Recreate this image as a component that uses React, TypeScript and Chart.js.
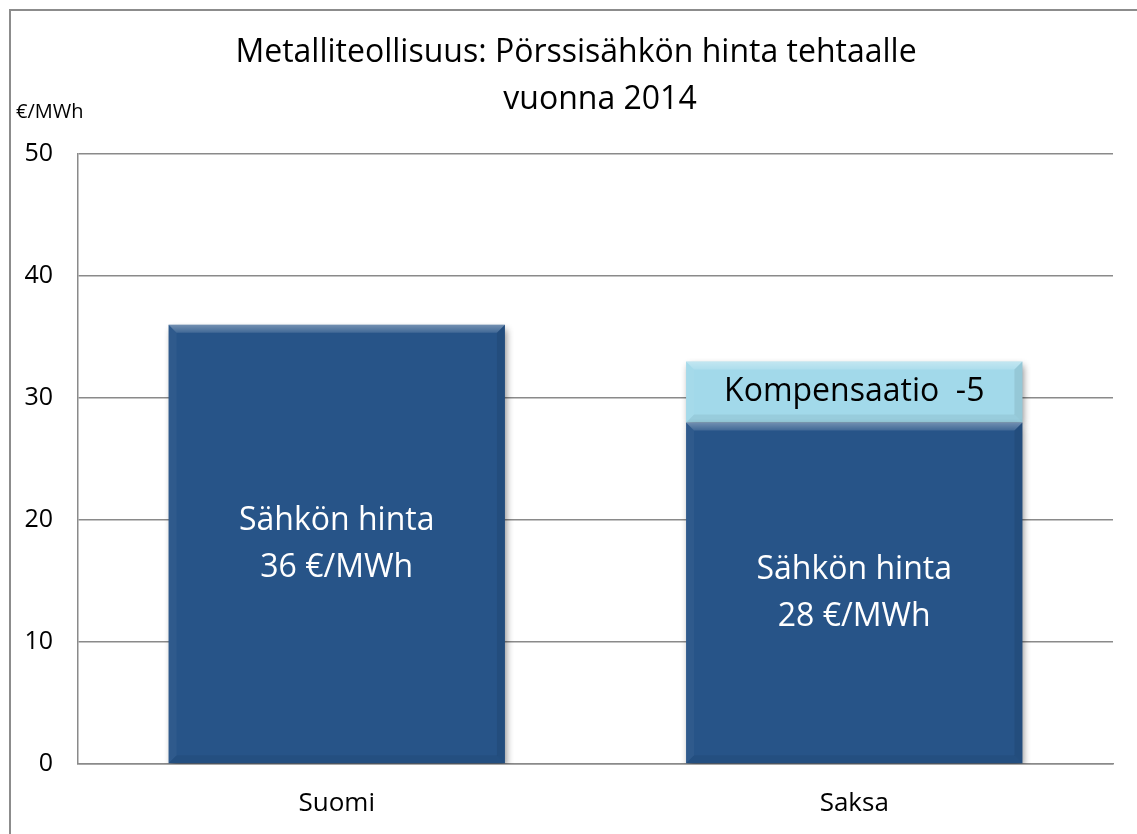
import React, { useEffect, useRef } from 'react';
import { Chart, registerables } from 'chart.js';

Chart.register(...registerables);

const categories = ['Suomi', 'Saksa'];
const priceValues = [36, 28];
const compensationValues: (number | null)[] = [null, 5];
const priceLabel = 'Sähkön hinta';
const priceUnit = '€/MWh';
const compensationLabel = 'Kompensaatio';
const titleLines = ['Metalliteollisuus: Pörssisähkön hinta tehtaalle', 'vuonna 2014'];
const unitLabel = '€/MWh';
const yMin = 0;
const yMax = 50;
const yStep = 10;

const FONT = '"Open Sans", "DejaVu Sans", sans-serif';
const DARK = '#275488';
const LIGHT = '#A2D9EA';
const GRID = '#8a8a8a';

function poly(ctx: CanvasRenderingContext2D, pts: number[][]) {
  ctx.beginPath();
  ctx.moveTo(pts[0][0], pts[0][1]);
  for (let i = 1; i < pts.length; i++) ctx.lineTo(pts[i][0], pts[i][1]);
  ctx.closePath();
  ctx.fill();
}

function drawBevel(ctx: CanvasRenderingContext2D, l: number, t: number, r: number, b: number, s: number) {
  const g = ctx.createLinearGradient(0, t, 0, t + s);
  g.addColorStop(0, 'rgba(255,255,255,0.35)');
  g.addColorStop(1, 'rgba(255,255,255,0.12)');
  ctx.fillStyle = g;
  poly(ctx, [[l, t], [r, t], [r - s, t + s], [l + s, t + s]]);
  ctx.fillStyle = 'rgba(255,255,255,0.04)';
  poly(ctx, [[l, t], [l + s, t + s], [l + s, b - s], [l, b]]);
  ctx.fillStyle = 'rgba(0,0,0,0.08)';
  poly(ctx, [[r, t], [r, b], [r - s, b - s], [r - s, t + s]]);
  ctx.fillStyle = 'rgba(0,0,0,0.06)';
  poly(ctx, [[l, b], [r, b], [r - s, b - s], [l + s, b - s]]);
}

const decorPlugin = {
  id: 'decor',
  beforeDraw(chart: any) {
    const ctx: CanvasRenderingContext2D = chart.ctx;
    ctx.save();
    ctx.fillStyle = '#ffffff';
    ctx.fillRect(0, 0, chart.width, chart.height);
    ctx.strokeStyle = '#8c8c8c';
    ctx.lineWidth = 2;
    ctx.strokeRect(10, 10, chart.width + 50, chart.height + 50);
    ctx.restore();
  },
  beforeDatasetsDraw(chart: any) {
    const ctx: CanvasRenderingContext2D = chart.ctx;
    ctx.save();
    ctx.shadowColor = 'rgba(0,0,0,0.45)';
    ctx.shadowBlur = 7;
    ctx.shadowOffsetX = 2;
    ctx.shadowOffsetY = 4;
  },
  afterDatasetsDraw(chart: any) {
    const ctx: CanvasRenderingContext2D = chart.ctx;
    ctx.restore();
    ctx.save();
    chart.data.datasets.forEach((ds: any, di: number) => {
      const meta = chart.getDatasetMeta(di);
      meta.data.forEach((el: any, i: number) => {
        const v = ds.data[i];
        if (v === null || v === undefined) return;
        const { x, y, base, width } = el.getProps(['x', 'y', 'base', 'width'], true);
        const l = x - width / 2;
        const r = x + width / 2;
        const t = Math.min(y, base);
        const b = Math.max(y, base);
        drawBevel(ctx, l, t, r, b, 8);
        const cy = (t + b) / 2;
        ctx.textAlign = 'center';
        ctx.textBaseline = 'middle';
        if (di === 0) {
          ctx.fillStyle = '#ffffff';
          ctx.font = `32px ${FONT}`;
          ctx.fillText(priceLabel, x, cy - 23);
          ctx.fillText(`${v} ${priceUnit}`, x, cy + 24);
        } else {
          ctx.fillStyle = '#000000';
          ctx.font = `32px ${FONT}`;
          ctx.fillText(`${compensationLabel}  -${v}`, x, cy);
        }
      });
    });
    ctx.restore();
  },
  afterDraw(chart: any) {
    const ctx: CanvasRenderingContext2D = chart.ctx;
    ctx.save();
    ctx.fillStyle = '#000000';
    ctx.textAlign = 'center';
    ctx.textBaseline = 'middle';
    ctx.font = `32px ${FONT}`;
    ctx.fillText(titleLines[0], 576, 53);
    ctx.fillText(titleLines[1], 600, 100);
    ctx.textAlign = 'left';
    ctx.font = `20px ${FONT}`;
    ctx.fillText(unitLabel, 16, 112);
    ctx.restore();
  },
};

export default function App() {
  const ref = useRef<HTMLCanvasElement | null>(null);
  useEffect(() => {
    if (!ref.current) return;
    const chart = new Chart(ref.current, {
      type: 'bar',
      data: {
        labels: categories,
        datasets: [
          {
            label: priceLabel,
            data: priceValues,
            backgroundColor: DARK,
            borderWidth: 0,
            barPercentage: 0.65,
            categoryPercentage: 1,
            stack: 's',
          },
          {
            label: compensationLabel,
            data: compensationValues,
            backgroundColor: LIGHT,
            borderWidth: 0,
            barPercentage: 0.65,
            categoryPercentage: 1,
            stack: 's',
          },
        ],
      },
      options: {
        responsive: false,
        animation: false,
        layout: { padding: { left: 0, right: 24, top: 154, bottom: 0 } },
        plugins: {
          legend: { display: false },
          title: { display: false },
          tooltip: { enabled: false },
        },
        scales: {
          x: {
            stacked: true,
            grid: { display: false, drawTicks: false },
            border: { display: true, color: GRID, width: 1.5 },
            ticks: { color: '#000', font: { family: FONT, size: 26 }, padding: 24 },
            afterFit: (s: any) => { s.height = 70; },
          },
          y: {
            stacked: true,
            min: yMin,
            max: yMax,
            grid: { color: GRID, lineWidth: 1.5, drawTicks: false },
            border: { display: true, color: GRID, width: 1.5 },
            ticks: { stepSize: yStep, color: '#000', font: { family: FONT, size: 25 }, padding: 25 },
            afterFit: (s: any) => { s.width = 78; },
          },
        },
      },
      plugins: [decorPlugin],
    });
    return () => chart.destroy();
  }, []);
  return (
    <div style={{ position: 'fixed', left: 0, top: 0, width: 1137, height: 834 }}>
      <canvas ref={ref} width={1137} height={834} style={{ display: 'block' }} />
    </div>
  );
}
